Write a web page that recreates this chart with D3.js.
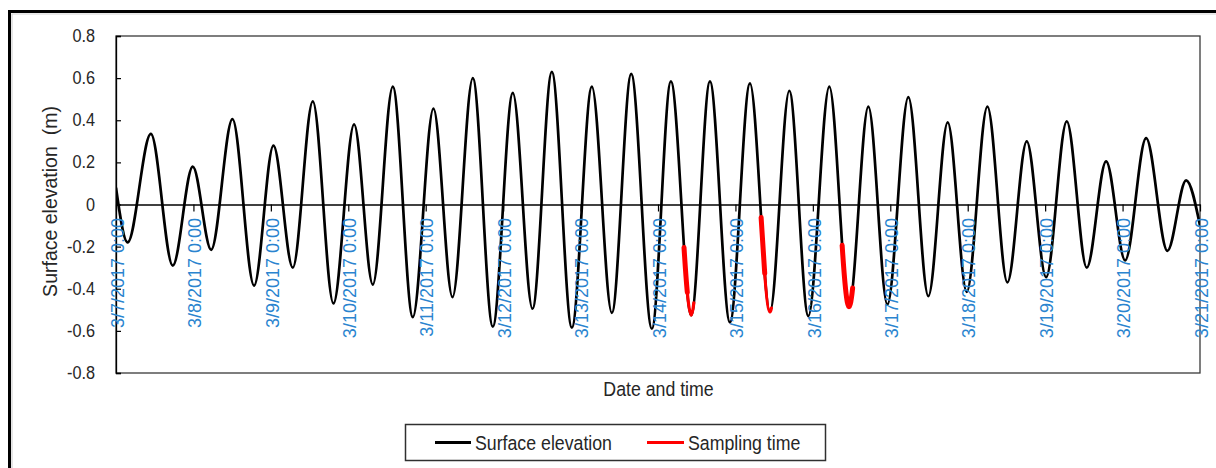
<!DOCTYPE html>
<html>
<head>
<meta charset="utf-8">
<script src="https://cdn.jsdelivr.net/npm/d3@7"></script>
<style>
  body { margin: 0; background: #fff; }
  svg { display: block; }
  text { font-family: "Liberation Sans", Arial, Helvetica, sans-serif; }
</style>
</head>
<body>
<svg id="chart" width="1216" height="468"></svg>
<script>
// Start of the record (UTC, no DST shift)
const startTime = "3/7/2017 0:00";

// Turning points of the tide: hours after start and surface elevation (m)
const hours = [0, 3.6, 10.8, 17.6, 23.8, 29.5, 36.1, 42.8, 48.8, 54.8, 61.0, 67.4, 73.8,
  79.6, 85.8, 92.0, 98.4, 104.3, 110.6, 116.8, 123.0, 129.1, 135.1, 141.3, 147.5,
  153.7, 159.7, 166.1, 172.0, 178.3, 184.1, 190.3, 196.5, 202.7, 208.7, 214.6, 221.1,
  227.2, 233.2, 239.1, 245.6, 251.8, 257.8, 263.7, 270.1, 276.3, 282.3, 288.3, 294.7,
  300.9, 306.9, 312.8, 319.3, 325.9, 331.7, 336.0];
const elevation = [0.08, -0.18, 0.335, -0.29, 0.18, -0.215, 0.405, -0.385, 0.28, -0.30, 0.49,
  -0.47, 0.38, -0.38, 0.56, -0.535, 0.455, -0.44, 0.60, -0.58, 0.53, -0.495, 0.63,
  -0.585, 0.56, -0.515, 0.62, -0.59, 0.585, -0.525, 0.585, -0.56, 0.575, -0.51, 0.54,
  -0.53, 0.56, -0.485, 0.465, -0.475, 0.51, -0.435, 0.39, -0.415, 0.465, -0.37, 0.30,
  -0.345, 0.395, -0.30, 0.205, -0.265, 0.315, -0.22, 0.115, -0.10];

// Sampling periods (hours after start); the first part of each was sampled continuously
const samplingStart = [176.0, 199.9, 225.0];
const samplingDenseEnd = [177.0, 201.0, 228.2];
const samplingEnd = [179.0, 202.9, 228.2];

const tickLabels = ["3/7/2017 0:00", "3/8/2017 0:00", "3/9/2017 0:00", "3/10/2017 0:00",
  "3/11/2017 0:00", "3/12/2017 0:00", "3/13/2017 0:00", "3/14/2017 0:00", "3/15/2017 0:00",
  "3/16/2017 0:00", "3/17/2017 0:00", "3/18/2017 0:00", "3/19/2017 0:00", "3/20/2017 0:00",
  "3/21/2017 0:00"];
const yTicks = [-0.8, -0.6, -0.4, -0.2, 0, 0.2, 0.4, 0.6, 0.8];

const seriesNames = ["Surface elevation", "Sampling time"];
const seriesColors = ["#000000", "#ff0000"];

// ---------------------------------------------------------------------------
const parse = d3.utcParse("%m/%d/%Y %H:%M");
const fmt = d3.utcFormat("%-m/%-d/%Y %-H:%M");
const t0 = parse(startTime);
const toDate = h => new Date(t0.getTime() + h * 3600e3);
const tickDates = tickLabels.map(parse);

const plot = { left: 116, right: 1200, top: 36, bottom: 373 };

const x = d3.scaleUtc()
  .domain([tickDates[0], tickDates[tickDates.length - 1]])
  .range([plot.left, plot.right]);
const y = d3.scaleLinear().domain([-0.8, 0.8]).range([plot.bottom, plot.top]);

const data = hours.map((h, i) => ({ t: toDate(h), v: elevation[i] }));

const svg = d3.select("#chart");

// Outer chart frame
svg.append("path").attr("d", "M12,468V14H1216")
  .attr("fill", "none").attr("stroke", "#d4d4d4").attr("stroke-width", 1.2);
svg.append("path").attr("d", "M9.5,468V11.5H1216")
  .attr("fill", "none").attr("stroke", "#000").attr("stroke-width", 3);

// Plot-area border
svg.append("rect")
  .attr("x", plot.left).attr("y", plot.top)
  .attr("width", plot.right - plot.left).attr("height", plot.bottom - plot.top)
  .attr("fill", "none").attr("stroke", "#3a3a3a").attr("stroke-width", 1.3);

// Y axis (ticks point inward)
const sx = 0.93;
const yAxis = svg.append("g")
  .attr("transform", `translate(${plot.left},0)`)
  .call(d3.axisLeft(y).tickValues(yTicks).tickSize(-5).tickPadding(21 / sx)
    .tickFormat(d => String(d)));
yAxis.select(".domain").attr("stroke", "#000").attr("stroke-width", 1.3);
yAxis.selectAll(".tick line").attr("stroke", "#000").attr("stroke-width", 1.2);
yAxis.selectAll(".tick text")
  .attr("transform", `scale(${sx},1)`)
  .attr("font-size", 17.5).attr("fill", "#262626");

// Clip for the plotted series
svg.append("clipPath").attr("id", "plotClip").append("rect")
  .attr("x", plot.left).attr("y", plot.top)
  .attr("width", plot.right - plot.left).attr("height", plot.bottom - plot.top);

const line = d3.line().x(d => x(d.t)).y(d => y(d.v)).curve(d3.curveMonotoneX);

// Surface elevation
const elevPath = svg.append("path").datum(data)
  .attr("clip-path", "url(#plotClip)")
  .attr("d", line)
  .attr("fill", "none").attr("stroke", seriesColors[0])
  .attr("stroke-width", 2.7).attr("stroke-linejoin", "round");

// Sampling periods with a dash window
const node = elevPath.node();
const total = node.getTotalLength();
function lengthAtX(px) {
  let lo = 0, hi = total;
  for (let k = 0; k < 40; k++) {
    const mid = (lo + hi) / 2;
    if (node.getPointAtLength(mid).x < px) lo = mid; else hi = mid;
  }
  return (lo + hi) / 2;
}
samplingStart.forEach((s, i) => {
  const l0 = lengthAtX(x(toDate(s)));
  const parts = [
    { l1: lengthAtX(x(toDate(samplingEnd[i]))), w: 3.2 },
    { l1: lengthAtX(x(toDate(samplingDenseEnd[i]))), w: 5 }
  ];
  parts.forEach(p => {
    svg.append("path").datum(data)
      .attr("d", line)
      .attr("fill", "none").attr("stroke", seriesColors[1])
      .attr("stroke-width", p.w).attr("stroke-linejoin", "round").attr("stroke-linecap", "round")
      .attr("stroke-dasharray", `${p.l1 - l0} ${total}`)
      .attr("stroke-dashoffset", -l0);
  });
});

// X axis drawn along the zero line
const xAxis = svg.append("g")
  .attr("transform", `translate(0,${y(0)})`)
  .call(d3.axisBottom(x).tickValues(tickDates).tickSize(7).tickSizeOuter(0).tickFormat(fmt));
xAxis.select(".domain").attr("stroke", "#000").attr("stroke-width", 1.5);
xAxis.selectAll(".tick line").attr("stroke", "#000").attr("stroke-width", 1.2);
xAxis.selectAll(".tick text")
  .attr("transform", "rotate(-90)")
  .attr("text-anchor", "end")
  .attr("x", -(218 - y(0))).attr("y", 0).attr("dy", "0.4em")
  .attr("font-size", 18).attr("fill", "#2a84cf");

// Axis titles
svg.append("text")
  .attr("transform", `translate(658.5,396) scale(0.91,1)`)
  .attr("text-anchor", "middle").attr("font-size", 19.5).attr("fill", "#262626")
  .text("Date and time");
svg.append("text")
  .attr("transform", "translate(57,201.5) rotate(-90)")
  .attr("text-anchor", "middle").attr("font-size", 19.5).attr("fill", "#262626")
  .style("white-space", "pre")
  .text("Surface elevation  (m)");

// Legend
const legend = svg.append("g");
legend.append("rect")
  .attr("x", 405.5).attr("y", 424.5).attr("width", 420).attr("height", 36)
  .attr("fill", "#fff").attr("stroke", "#303030").attr("stroke-width", 1.5);
const legendItems = [
  { x0: 435, x1: 471, tx: 475 },
  { x0: 647, x1: 684, tx: 688 }
];
legendItems.forEach((it, i) => {
  legend.append("line")
    .attr("x1", it.x0).attr("x2", it.x1).attr("y1", 442.5).attr("y2", 442.5)
    .attr("stroke", seriesColors[i]).attr("stroke-width", 3);
  legend.append("text")
    .attr("transform", `translate(${it.tx},449.5) scale(0.91,1)`)
    .attr("font-size", 19.5).attr("fill", "#262626")
    .text(seriesNames[i]);
});
</script>
</body>
</html>
